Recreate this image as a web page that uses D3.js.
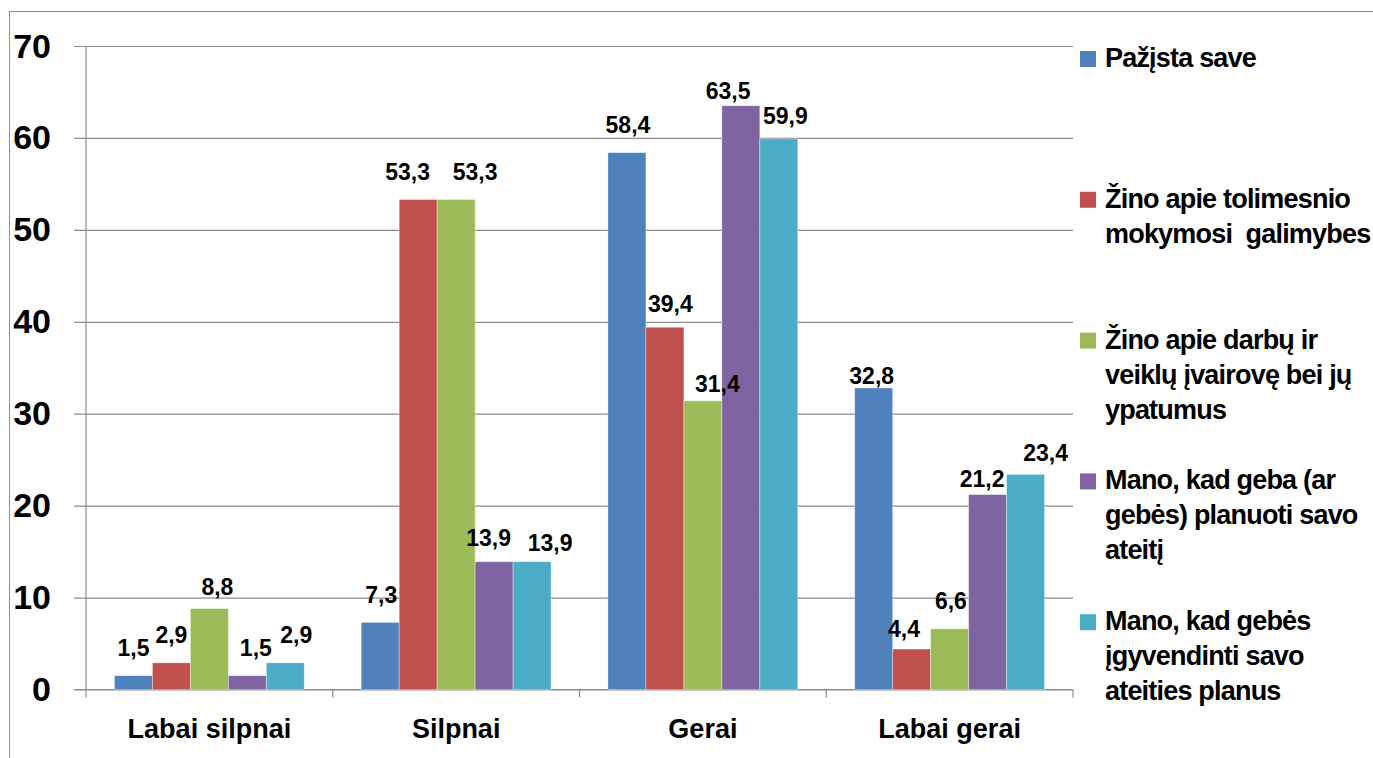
<!DOCTYPE html>
<html>
<head>
<meta charset="utf-8">
<script src="https://cdn.jsdelivr.net/npm/d3@7"></script>
<style>
  html, body { margin: 0; padding: 0; background: #fff; }
  svg { display: block; font-family: "Liberation Sans", Arial, sans-serif; font-weight: bold; }
</style>
</head>
<body>
<svg id="chart" width="1373" height="758"></svg>
<script>
// ---- DATA ----
const categories = ["Labai silpnai", "Silpnai", "Gerai", "Labai gerai"];
const seriesNames = [
  "Pažįsta save",
  "Žino apie tolimesnio mokymosi  galimybes",
  "Žino apie darbų ir veiklų įvairovę bei jų ypatumus",
  "Mano, kad geba (ar gebės) planuoti savo ateitį",
  "Mano, kad gebės įgyvendinti savo ateities planus"
];
const pazistaSave       = [1.5, 7.3, 58.4, 32.8];
const zinoMokymosi      = [2.9, 53.3, 39.4, 4.4];
const zinoDarbu         = [8.8, 53.3, 31.4, 6.6];
const gebaPlanuoti      = [1.5, 13.9, 63.5, 21.2];
const gebesIgyvendinti  = [2.9, 13.9, 59.9, 23.4];
const yTicks = [0, 10, 20, 30, 40, 50, 60, 70];

// ---- LAYOUT / STYLE ----
const colors = ["#4F81BD", "#C0504D", "#9BBB59", "#8064A2", "#4BACC6"];
const legendLines = [
  ["Pažįsta save"],
  ["Žino apie tolimesnio", "mokymosi  galimybes"],
  ["Žino apie darbų ir", "veiklų įvairovę bei jų", "ypatumus"],
  ["Mano, kad geba (ar", "gebės) planuoti savo", "ateitį"],
  ["Mano, kad gebės", "įgyvendinti savo", "ateities planus"]
];
// manual label nudges [dx, dy] per series (rows) x category (cols), as placed in the original
const labelNudge = [
  [[0,0],[1,0],[1,0],[-2,15.5]],
  [[0,0],[-10.5,0],[5.5,4],[-7.6,7]],
  [[8,5.5],[19,0],[14.5,10.5],[1.3,0]],
  [[8.5,0],[-5.5,4],[-12.7,12.5],[-5.5,11.5]],
  [[11,0],[18,9],[6.6,4.5],[20,6]]
];

const allSeries = [pazistaSave, zinoMokymosi, zinoDarbu, gebaPlanuoti, gebesIgyvendinti];

const svg = d3.select("#chart");
const plot = { left: 86, right: 1073, top: 46, bottom: 689.5 };
const gridColor = "#8c8c8c";

// outer chart border
svg.append("rect")
  .attr("x", 9.5).attr("y", 11.5)
  .attr("width", 1400).attr("height", 800)
  .attr("fill", "none").attr("stroke", gridColor).attr("stroke-width", 1);

const x0 = d3.scaleBand().domain(categories).range([plot.left, plot.right]).paddingInner(0).paddingOuter(0);
const x1 = d3.scaleBand().domain(d3.range(seriesNames.length)).range([0, x0.bandwidth()])
  .paddingInner(0).paddingOuter(0.75);
const y = d3.scaleLinear().domain([0, 70]).range([plot.bottom, plot.top]);

// gridlines + y axis
const yAxis = d3.axisLeft(y).tickValues(yTicks).tickSize(-(plot.right - plot.left)).tickPadding(0).tickFormat(d3.format("d"));
const gy = svg.append("g").attr("transform", `translate(${plot.left},0)`).call(yAxis);
gy.select(".domain").remove();
gy.selectAll(".tick line").attr("stroke", gridColor).attr("stroke-width", 1.2).attr("x1", -12);
gy.selectAll(".tick text")
  .attr("x", -35).attr("dy", null).attr("y", 11)
  .attr("text-anchor", "end")
  .style("font-size", "34px").style("font-weight", "bold").style("font-family", '"Liberation Sans", Arial, sans-serif')
  .attr("fill", "#000");

// y axis line
svg.append("line")
  .attr("x1", plot.left).attr("x2", plot.left)
  .attr("y1", plot.top).attr("y2", plot.bottom)
  .attr("stroke", gridColor).attr("stroke-width", 1.2);

// x axis
const xAxis = d3.axisBottom(x0).tickSize(0).tickFormat(d => d);
const gx = svg.append("g").attr("transform", `translate(0,${plot.bottom})`).call(xAxis);
gx.select(".domain").attr("stroke", gridColor).attr("stroke-width", 1.2).attr("d", `M${plot.left - 12},0H${plot.right}`);
gx.selectAll(".tick text")
  .attr("y", 48.5).attr("dy", null)
  .style("font-size", "27px").style("font-weight", "bold").style("font-family", '"Liberation Sans", Arial, sans-serif')
  .attr("fill", "#000");
// category separator ticks
const sepPositions = categories.map(c => x0(c)).concat([x0(categories[categories.length - 1]) + x0.bandwidth()]);
svg.append("g").selectAll("line").data(sepPositions).join("line")
  .attr("x1", d => d).attr("x2", d => d)
  .attr("y1", plot.bottom).attr("y2", plot.bottom + 8)
  .attr("stroke", gridColor).attr("stroke-width", 1.2);

// bars
const groups = svg.append("g").selectAll("g").data(categories).join("g")
  .attr("transform", c => `translate(${x0(c)},0)`);

groups.selectAll("rect")
  .data((c, ci) => allSeries.map((s, si) => ({ si, ci, v: s[ci] })))
  .join("rect")
  .attr("x", d => x1(d.si))
  .attr("width", x1.bandwidth())
  .attr("y", d => y(d.v))
  .attr("height", d => y(0) - y(d.v))
  .attr("fill", d => colors[d.si])
  .attr("stroke", "#ffffff").attr("stroke-opacity", 0.45).attr("stroke-width", 0.8);

// data labels
groups.selectAll("text.lbl")
  .data((c, ci) => allSeries.map((s, si) => ({ si, ci, v: s[ci] })))
  .join("text")
  .attr("class", "lbl")
  .attr("x", d => x1(d.si) + x1.bandwidth() / 2 + labelNudge[d.si][d.ci][0])
  .attr("y", d => y(d.v) - 19.5 + labelNudge[d.si][d.ci][1])
  .attr("text-anchor", "middle")
  .style("font-size", "23px")
  .attr("fill", "#000")
  .text(d => d3.format(".1f")(d.v).replace(".", ","));

// legend
const legend = svg.append("g").attr("transform", "translate(1080,51)");
const entries = legend.selectAll("g").data(seriesNames).join("g")
  .attr("transform", (d, i) => `translate(0,${i * 140.8})`);
entries.append("rect").attr("width", 16).attr("height", 16).attr("fill", (d, i) => colors[i]);
entries.each(function(d, i) {
  const t = d3.select(this).append("text")
    .attr("x", 25).attr("y", 16)
    .style("font-size", "27px").style("letter-spacing", "-0.8px").style("white-space", "pre")
    .attr("fill", "#000");
  t.selectAll("tspan").data(legendLines[i]).join("tspan")
    .attr("x", 25).attr("dy", (l, k) => k === 0 ? 0 : 35)
    .text(l => l);
});
</script>
</body>
</html>
